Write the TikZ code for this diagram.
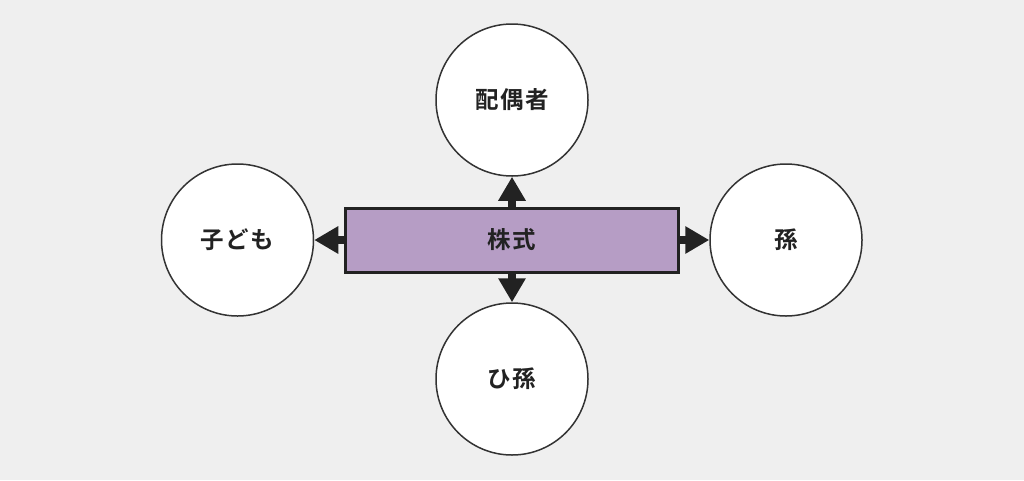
\documentclass[tikz,border=0pt]{standalone}
\usepackage{fontspec}
\newfontfamily\cjk[LetterSpace=6]{Noto Sans CJK JP Bold}
\usetikzlibrary{arrows.meta}
\definecolor{bgc}{HTML}{EFEFEF}
\definecolor{purp}{HTML}{B69DC5}
\definecolor{dk}{HTML}{222222}
\definecolor{cl}{HTML}{333333}
\begin{document}
\begin{tikzpicture}[x=1pt,y=-1pt,
  person/.style={circle,draw=cl,line width=1.5pt,fill=white,minimum size=152pt,inner sep=0pt,font=\cjk\fontsize{23.5}{23.5}\selectfont,text=dk},
  stock/.style={rectangle,draw=dk,line width=3pt,fill=purp,minimum width=333pt,minimum height=64pt,inner sep=0pt,font=\cjk\fontsize{23.5}{23.5}\selectfont,text=dk},
  link/.style={draw=dk,line width=8pt,-{Triangle[width=26pt,length=24pt]},color=dk}]
\fill[bgc] (0,0) rectangle (1024,480);
\useasboundingbox (0,0) rectangle (1024,480);
\node[stock] (s) at (512,240) {株式};
\node[person] (t) at (512,100) {配偶者};
\node[person] (l) at (237.5,240) {子ども};
\node[person] (r) at (786,240) {孫};
\node[person] (b) at (512,379) {ひ孫};
\draw[link] (s.north) -- (t.south);
\draw[link] (s.south) -- (b.north);
\draw[link] (s.west) -- (l.east);
\draw[link] (s.east) -- (r.west);
\end{tikzpicture}
\end{document}
